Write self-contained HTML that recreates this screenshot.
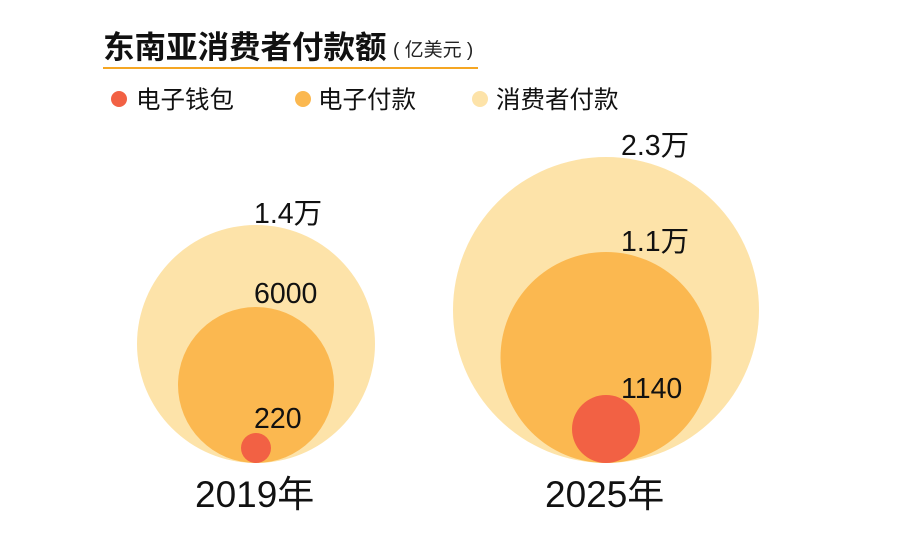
<!DOCTYPE html>
<html><head><meta charset="utf-8"><style>
html,body{margin:0;padding:0;background:#fff;}
body{width:900px;height:549px;overflow:hidden;position:relative;font-family:"Liberation Sans","Noto Sans CJK SC",sans-serif;}
</style></head><body>
<svg width="900" height="549" viewBox="0 0 900 549" xmlns="http://www.w3.org/2000/svg" style="position:absolute;left:0;top:0" font-family="Liberation Sans, Noto Sans CJK SC, sans-serif">
<text x="103" y="58" font-size="31.5" font-weight="bold" fill="#111">东南亚消费者付款额</text>
<text x="393" y="56" font-size="19" fill="#222">( 亿美元 )</text>
<rect x="103" y="67" width="375" height="2" fill="#f5a623"/>
<circle cx="119" cy="99" r="8" fill="#f26144"/>
<text x="136" y="108" font-size="24.5" fill="#111">电子钱包</text>
<circle cx="303" cy="99" r="8" fill="#fbb850"/>
<text x="318" y="108" font-size="24.5" fill="#111">电子付款</text>
<circle cx="480" cy="99" r="8" fill="#fde3a9"/>
<text x="496" y="108" font-size="24.5" fill="#111">消费者付款</text>

<circle cx="256" cy="344" r="119" fill="#fde3a9"/>
<circle cx="256" cy="385" r="78" fill="#fbb850"/>
<circle cx="256" cy="448" r="15" fill="#f26144"/>
<circle cx="606" cy="310" r="153" fill="#fde3a9"/>
<circle cx="606" cy="357.5" r="105.5" fill="#fbb850"/>
<circle cx="606" cy="429" r="34" fill="#f26144"/>

<g font-size="28.5" fill="#111">
<text x="254" y="223">1.4万</text>
<text x="254" y="303">6000</text>
<text x="254" y="428">220</text>
<text x="621" y="155">2.3万</text>
<text x="621" y="251">1.1万</text>
<text x="621" y="398">1140</text>
</g>
<g font-size="37" fill="#111">
<text x="195" y="507">2019年</text>
<text x="545" y="507">2025年</text>
</g>
</svg>
</body></html>
